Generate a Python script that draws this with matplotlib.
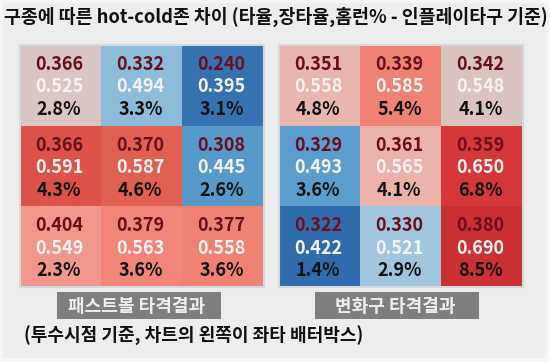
import numpy as np
import matplotlib
matplotlib.use("Agg")
import matplotlib.pyplot as plt
from matplotlib.colors import LinearSegmentedColormap
from matplotlib.patches import Rectangle

plt.rcParams['font.family'] = ['Noto Sans CJK KR', 'DejaVu Sans']

# data (3x3 zones, pitcher's view)
fast_avg = [[0.366, 0.332, 0.240], [0.366, 0.370, 0.308], [0.404, 0.379, 0.377]]
fast_slg = [[0.525, 0.494, 0.395], [0.591, 0.587, 0.445], [0.549, 0.563, 0.558]]
fast_hr = [[2.8, 3.3, 3.1], [4.3, 4.6, 2.6], [2.3, 3.6, 3.6]]
fast_heat = [[0.02, -0.42, -0.85], [0.66, 0.58, -0.62], [0.33, 0.42, 0.43]]

break_avg = [[0.351, 0.339, 0.342], [0.329, 0.361, 0.359], [0.322, 0.330, 0.380]]
break_slg = [[0.558, 0.585, 0.548], [0.493, 0.565, 0.650], [0.422, 0.521, 0.690]]
break_hr = [[4.8, 5.4, 4.1], [3.6, 4.1, 6.8], [1.4, 2.9, 8.5]]
break_heat = [[0.16, 0.43, 0.03], [-0.6, 0.19, 0.82], [-0.92, -0.32, 0.92]]

title = '구종에 따른 hot-cold존 차이 (타율,장타율,홈런% - 인플레이타구 기준)'
labels = ['패스트볼 타격결과', '변화구 타격결과']
caption = '(투수시점 기준, 차트의 왼쪽이 좌타 배터박스)'

cmap = LinearSegmentedColormap.from_list('hc', [
    (0.0, '#2a66aa'), (0.1, '#3b77b3'), (0.2, '#5b9ecd'), (0.3, '#92c0dc'),
    (0.4, '#b6d0e0'), (0.5, '#d8c8c6'), (0.6, '#ecb1aa'), (0.7, '#f48a7c'),
    (0.8, '#df5e4e'), (0.9, '#d83a3b'), (1.0, '#c42a2d')])

W, H = 550, 362
fig = plt.figure(figsize=(5.5, 3.62), dpi=100, facecolor='#f5f5f5')

# background panel
fig.patches.append(Rectangle((3 / W, 4 / H), 543 / W, 355 / H, transform=fig.transFigure,
                             facecolor='#ededed', edgecolor='none', zorder=-5))

fig.text(276 / W, 1 - 17 / H, title, ha='center', va='center', fontsize=13.2,
         fontweight='bold', color='#111111')


def draw_grid(x0, avg, slg, hr, heat, label, lx0):
    ax = fig.add_axes([x0 / W, 1 - 287 / H, 244 / W, 242 / H])
    ax.imshow(np.array(heat), cmap=cmap, vmin=-1, vmax=1, aspect='auto',
              extent=(0, 3, 3, 0))
    for i in range(3):
        for j in range(3):
            ax.text(j + 0.48, i + 0.24, f'{avg[i][j]:.3f}', ha='center', va='center',
                    fontsize=13, fontweight='bold', color='#6a0f1c')
            ax.text(j + 0.48, i + 0.52, f'{slg[i][j]:.3f}', ha='center', va='center',
                    fontsize=13, fontweight='bold', color='#f7f2f2')
            ax.text(j + 0.48, i + 0.80, f'{hr[i][j]:.1f}%', ha='center', va='center',
                    fontsize=13, fontweight='bold', color='#111111')
    ax.set_xlim(0, 3)
    ax.set_ylim(3, 0)
    ax.set_xticks([])
    ax.set_yticks([])
    for s in ax.spines.values():
        s.set_color('#d4d9de')
        s.set_linewidth(1.5)
    fig.patches.append(Rectangle((lx0 / W, 1 - 319 / H), 164 / W, 27 / H,
                                 transform=fig.transFigure, facecolor='#7f7f7f',
                                 edgecolor='none'))
    fig.text((lx0 + 80) / W, 1 - 306 / H, label, ha='center', va='center',
             fontsize=13, fontweight='bold', color='#eeeeee')


draw_grid(20, fast_avg, fast_slg, fast_hr, fast_heat, labels[0], 57)
draw_grid(279, break_avg, break_slg, break_hr, break_heat, labels[1], 315)

fig.text(24 / W, 1 - 336 / H, caption, ha='left', va='center', fontsize=13,
         fontweight='bold', color='#111111')

fig.savefig('out.png', dpi=100, facecolor=fig.get_facecolor())
